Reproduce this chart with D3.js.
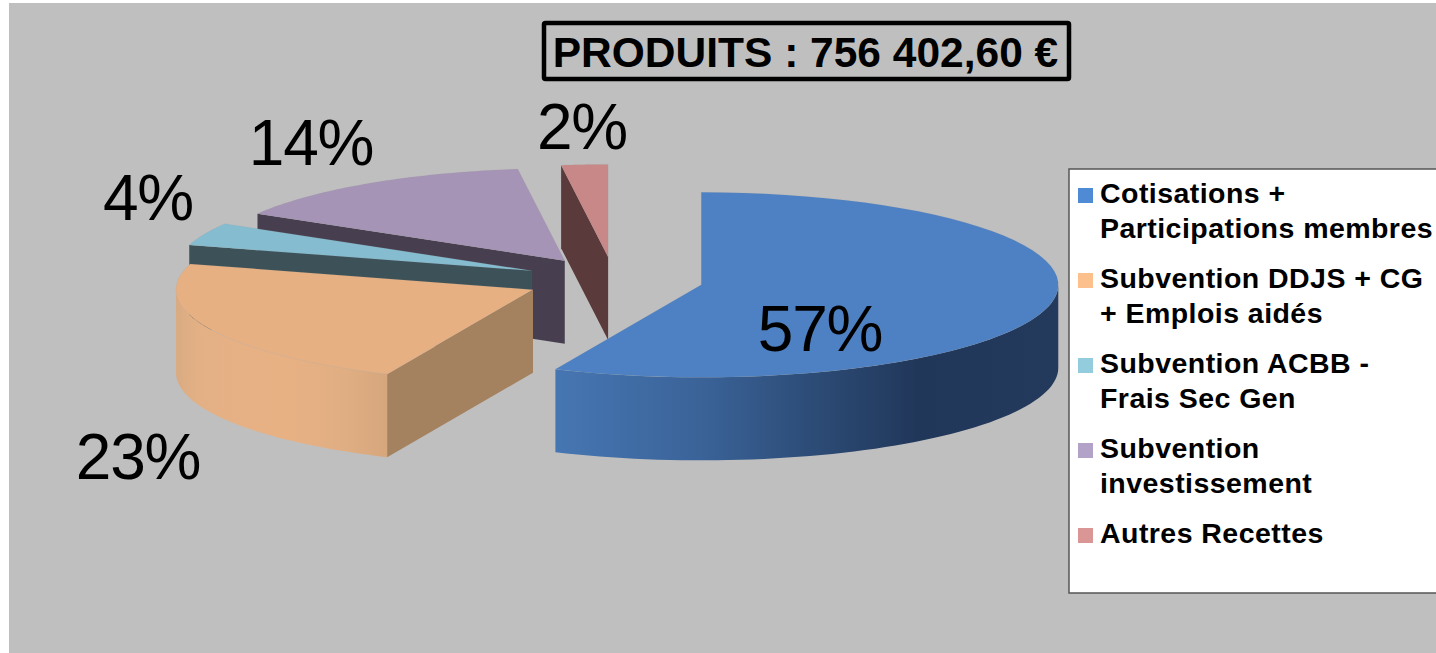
<!doctype html>
<html>
  <head>
    <meta charset="utf-8">
    <title>Produits</title>
    <script src="https://cdnjs.cloudflare.com/ajax/libs/d3/7.8.5/d3.min.js"></script>
    <style>
      html, body { margin: 0; padding: 0; background: #fff; overflow: hidden; }
      svg { display: block; }
      text { font-family: "Liberation Sans", Arial, sans-serif; fill: #000; }
    </style>
  </head>
  <body>
    <div id="chart"></div>
    <script>
    // data
    const titleText = "PRODUITS : 756 402,60 €";
    const categories = ["Cotisations + Participations membres", "Subvention DDJS + CG + Emplois aidés", "Subvention ACBB - Frais Sec Gen", "Subvention investissement", "Autres Recettes"];
    const legendLines = [
      ["Cotisations +", "Participations membres"],
      ["Subvention DDJS + CG", "+ Emplois aidés"],
      ["Subvention ACBB -", "Frais Sec Gen"],
      ["Subvention", "investissement"],
      ["Autres Recettes"]
    ];
    const shares = [56.7, 22.8, 4.0, 14.4, 2.1];

    // colours
    const topColors = ["#4e81c3", "#e6b083", "#85bccf", "#a594b6", "#c88887"];
    const wallColors = ["#3a6297", "#a5825f", "#3c5158", "#473f4f", "#5a3a3a"];
    const legendColors = ["#4f8ad4", "#fcc08c", "#93cddd", "#b2a2c7", "#d99694"];

    // layout
    const width = 1436, height = 653;
    const cx = 614, cy = 280, rx = 357, ry = 92.5, depth = 83, explode = 0.25;
    const labelX = [820, 138, 148, 311, 582];
    const labelY = [351, 479, 220, 165, 149];
    const drawOrder = [3, 2, 1, 4, 0]; // back to front

    const svg = d3.select("#chart").append("svg").attr("width", width).attr("height", height);
    svg.append("rect").attr("x", 9).attr("y", 3).attr("width", width - 9).attr("height", height - 3).attr("fill", "#bfbfbf");

    const defs = svg.append("defs");
    const rimGradient = (id, stops) => {
      const g = defs.append("linearGradient").attr("id", id);
      stops.forEach(s => g.append("stop").attr("offset", s[0]).attr("stop-color", s[1]));
    };
    rimGradient("rim0", [[0, "#4676b2"], [0.3, "#3a6297"], [0.5, "#2d4d78"], [0.72, "#21375a"], [1, "#233a5c"]]);
    rimGradient("rim1", [[0, "#d9ab82"], [0.1, "#e3b085"], [0.5, "#e8b184"], [0.8, "#e0ae83"], [1, "#d6a67c"]]);

    const slices = d3.pie().sort(null).startAngle(0).endAngle(2 * Math.PI)(shares);

    const line = d3.line().x(d => d[0]).y(d => d[1]);

    // screen point for an angle, clockwise from the top, on the ellipse
    const rim = (a, z) => [rx * Math.sin(a), -ry * Math.cos(a) + z];
    const sweep = (a0, a1, z) => d3.range(0, 61).map(i => rim(a0 + (a1 - a0) * i / 60, z));

    const drawSlice = i => {
      const s = slices[i];
      const mid = (s.startAngle + s.endAngle) / 2;
      const g = svg.append("g")
        .attr("transform", `translate(${cx + explode * rx * Math.sin(mid)},${cy - explode * ry * Math.cos(mid)})`);

      // cut wall at the start angle, only when it faces the viewer
      if (s.startAngle > Math.PI) {
        const p = rim(s.startAngle, 0);
        g.append("path")
          .attr("d", line([[0, 0], p, [p[0], p[1] + depth], [0, depth]]) + "Z")
          .attr("fill", wallColors[i]);
      }

      // outer wall, front half of the ellipse only
      const a0 = Math.max(s.startAngle, Math.PI / 2), a1 = Math.min(s.endAngle, 3 * Math.PI / 2);
      if (a1 > a0) {
        const pts = sweep(a0, a1, 0).concat(sweep(a1, a0, depth));
        g.append("path")
          .attr("d", line(pts) + "Z")
          .attr("fill", i < 2 ? `url(#rim${i})` : wallColors[i]);
      }

      // top face
      g.append("path")
        .attr("d", line([[0, 0]].concat(sweep(s.startAngle, s.endAngle, 0))) + "Z")
        .attr("fill", topColors[i])
        .attr("stroke", "#8f8f8f")
        .attr("stroke-opacity", 0.2)
        .attr("stroke-width", 0.5);
    };
    drawOrder.forEach(drawSlice);

    // percent labels
    svg.selectAll("text.pct")
      .data(shares)
      .join("text")
      .attr("class", "pct")
      .attr("x", (d, i) => labelX[i])
      .attr("y", (d, i) => labelY[i])
      .attr("text-anchor", "middle")
      .attr("font-size", 64)
      .attr("letter-spacing", -1.2)
      .text(d => Math.round(d) + "%");

    // title box
    svg.append("rect")
      .attr("x", 544).attr("y", 23).attr("width", 525).attr("height", 56).attr("rx", 1.5)
      .attr("fill", "none").attr("stroke", "#000").attr("stroke-width", 4.5);
    svg.append("text")
      .attr("x", 805.5).attr("y", 67)
      .attr("text-anchor", "middle")
      .attr("font-size", 42.5).attr("font-weight", 700)
      .text(titleText);

    // legend
    svg.append("rect")
      .attr("x", 1069).attr("y", 169).attr("width", 372).attr("height", 424)
      .attr("fill", "#fff").attr("stroke", "#555").attr("stroke-width", 1.5);
    const legend = svg.selectAll("g.legend")
      .data(categories)
      .join("g")
      .attr("class", "legend")
      .attr("transform", (d, i) => `translate(1078,${188 + i * 85})`);
    legend.append("rect")
      .attr("width", 15).attr("height", 15)
      .attr("fill", (d, i) => legendColors[i]);
    legend.each(function(d, i) {
      d3.select(this).selectAll("text")
        .data(legendLines[i])
        .join("text")
        .attr("x", 22)
        .attr("y", (t, j) => 15 + j * 34.5)
        .attr("font-size", 28.5).attr("font-weight", 700)
        .attr("letter-spacing", 0.45)
        .text(t => t);
    });
    </script>
  </body>
</html>
